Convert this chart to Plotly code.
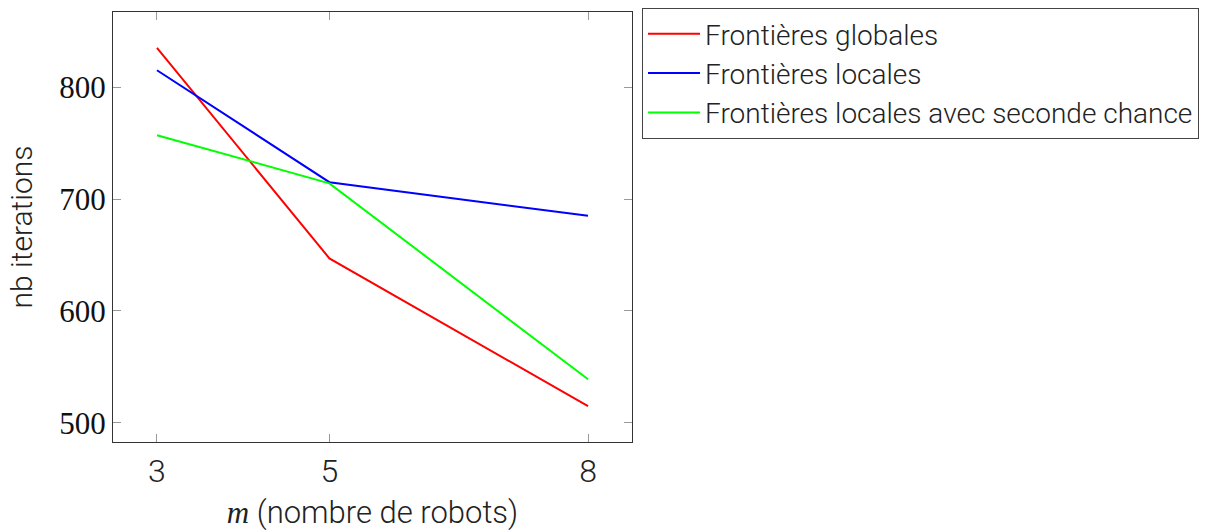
import plotly.graph_objects as go

robots = [3, 5, 8]
frontieres_globales = [835, 647, 515]
frontieres_locales = [815, 715, 685]
locales_seconde_chance = [757, 714, 539]
series_names = ["Frontières globales", "Frontières locales", "Frontières locales avec seconde chance"]
series_colors = ["#ff0000", "#0000ff", "#00ff00"]
y_ticks = [500, 600, 700, 800]

fig = go.Figure()
for name, vals, col in zip(series_names, [frontieres_globales, frontieres_locales, locales_seconde_chance], series_colors):
    fig.add_trace(go.Scatter(x=robots, y=vals, mode="lines", name=name,
                             line=dict(color=col, width=2)))

sans = "Roboto"
serif = "Liberation Serif"

fig.update_layout(
    width=1221, height=531,
    margin=dict(l=113, r=589, t=12, b=89, autoexpand=False),
    plot_bgcolor="white", paper_bgcolor="white",
    font=dict(family=sans, size=28, color="#222", weight=300),
    showlegend=True,
    legend=dict(x=1.0193, y=1.0093, xanchor="left", yanchor="top",
                bordercolor="#444", borderwidth=1,
                font=dict(family=sans, size=28, color="#222", weight=300),
                tracegroupgap=0, itemwidth=52),
    xaxis=dict(range=[2.49, 8.51], tickvals=robots, ticktext=[str(v) for v in robots],
               showgrid=False, zeroline=False, showline=True, linecolor="#333", linewidth=1.3,
               mirror="ticks", ticks="inside", ticklen=8, tickcolor="#999", tickwidth=1.3,
               automargin=False,
               tickfont=dict(family=sans, size=32, color="#222", weight=300),
               title=dict(text="<span style='font-family:Liberation Serif'><i>m</i></span> (nombre de robots)",
                          font=dict(family=sans, size=31, color="#222", weight=300), standoff=22)),
    yaxis=dict(range=[483, 867], tickvals=y_ticks, ticktext=[str(v) for v in y_ticks],
               showgrid=False, zeroline=False, showline=True, linecolor="#333", linewidth=1.3,
               mirror="ticks", ticks="inside", ticklen=8, tickcolor="#999", tickwidth=1.3,
               automargin=False,
               tickfont=dict(family=serif, size=31, color="#111"),
               title=dict(text="nb iterations",
                          font=dict(family=sans, size=30, color="#222", weight=300), standoff=17)),
)

fig.write_html("out.html", config={"displayModeBar": False},
               post_script="document.body.style.margin='0';")
